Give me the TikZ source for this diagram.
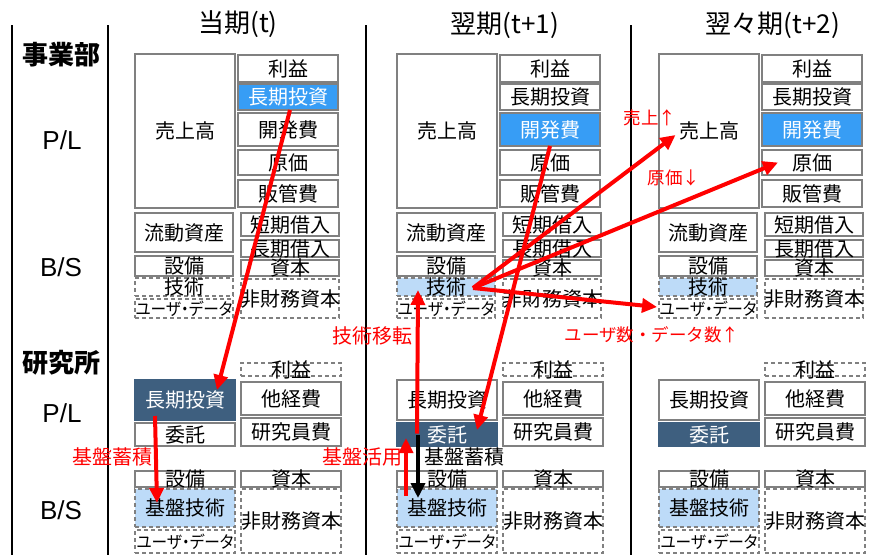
\documentclass[tikz,border=0pt]{standalone}
\usepackage{fontspec}
\setmainfont{Noto Sans CJK JP}
\newfontfamily\arialf{Liberation Sans}
\newfontfamily\pfont[RawFeature=+palt]{Noto Sans CJK JP}
\usepackage{graphicx}
\usetikzlibrary{arrows.meta,calc}
\definecolor{bblue}{RGB}{55,157,245}
\definecolor{dblue}{RGB}{62,95,127}
\definecolor{lblue}{RGB}{189,219,248}
\definecolor{bgray}{RGB}{128,128,128}
\tikzset{
 box/.style={draw=bgray, line width=1.6pt, inner sep=0pt, outer sep=0pt},
 dbox/.style={box, dash pattern=on 4pt off 3pt},
 bluebox/.style={box, fill=bblue},
 darkbox/.style={box, fill=dblue, draw=dblue},
 lbbox/.style={dbox, fill=lblue},
 box text/.style={}, dbox text/.style={}, lbbox text/.style={},
 bluebox text/.style={text=white}, darkbox text/.style={text=white},
 txt/.style={inner sep=0pt, font=\fontsize{20}{24}\selectfont},
 sep/.style={line width=1.5pt},
 rarrow/.style={draw=red, line width=4pt, -{Triangle[length=15pt,width=14pt]}},
 karrow/.style={draw=black, line width=4pt, -{Triangle[length=15pt,width=14pt]}},
 rlab/.style={text=red, inner sep=0pt, font=\fontsize{20}{24}\selectfont},
 rlabs/.style={text=red, inner sep=0pt, font=\fontsize{17.5}{20}\selectfont},
 klab/.style={text=black, inner sep=0pt, font=\fontsize{20}{24}\selectfont},
 ttl/.style={inner sep=0pt, font=\fontsize{26}{30}\selectfont},
 sec/.style={inner sep=0pt, font=\bfseries\fontsize{26}{30}\selectfont},
 pl/.style={inner sep=0pt, font=\arialf\fontsize{26}{30}\selectfont},
}
\newcommand\usertxt{\pfont\fontsize{17}{19}\selectfont\scalebox{0.92}[1]{ユーザ・データ}}
\newcommand\bx[7]{%
 \node[#6, minimum width={(#4-#2)*1pt}, minimum height={(#5-#3)*1pt},
   label={[txt, #6 text]center:{#7}}] (#1) at ({(#2+#4)/2},{(#3+#5)/2}) {};}
\newcommand\drawcol[7]{%
\begin{scope}[xshift=#2]
\bx{uri#1}{135}{54}{235}{208}{box}{売上高}
\bx{rieki#1}{238}{55}{338}{82}{box}{利益}
\bx{choki#1}{238}{84}{338}{110}{#3}{長期投資}
\bx{kaihatsu#1}{238}{113}{338}{146}{#4}{開発費}
\bx{genka#1}{238}{150}{338}{175}{box}{原価}
\bx{hankan#1}{238}{180}{338}{207}{box}{販管費}
\bx{ryudo#1}{135}{213}{233}{252}{box}{流動資産}
\bx{tanki#1}{241}{213}{339}{236}{box}{短期借入}
\bx{chokik#1}{241}{240}{339}{257}{box}{長期借入}
\bx{shihon#1}{241}{260}{339}{276}{box}{資本}
\bx{setsubi#1}{135}{256}{233}{276}{box}{設備}
\bx{gijutsu#1}{135}{278}{233}{296}{#5}{技術}
\bx{user#1}{135}{299}{233}{318}{dbox}{\usertxt}
\bx{hizai#1}{241}{279}{339}{318}{dbox}{非財務資本}
\bx{lrieki#1}{241}{363}{341}{376}{dbox}{利益}
\bx{lchoki#1}{135}{380}{235}{420}{#6}{長期投資}
\bx{takeihi#1}{241}{382}{341}{415}{box}{他経費}
\bx{itaku#1}{135}{423}{235}{446}{#7}{委託}
\bx{kenkyu#1}{241}{418}{341}{446}{box}{研究員費}
\bx{lsetsubi#1}{135}{471}{235}{487}{box}{設備}
\bx{lshihon#1}{241}{471}{341}{487}{box}{資本}
\bx{kiban#1}{135}{489}{235}{527}{lbbox}{基盤技術}
\bx{luser#1}{135}{530}{235}{553}{dbox}{\usertxt}
\bx{lhizai#1}{241}{489}{341}{553}{dbox}{非財務資本}
\end{scope}}
\begin{document}
\begin{tikzpicture}[x=1pt,y=-1pt]
\useasboundingbox (0,0) rectangle (874,555);
% separators
\draw[sep] (12,25) -- (12,555);
\draw[sep] (108,25) -- (108,555);
\draw[sep] (366,25) -- (366,555);
\draw[sep] (631,25) -- (631,555);
% titles
\node[ttl] (t1) at (238,24) {当期(t)};
\node[ttl] (t2) at (505,25) {翌期(t+1)};
\node[ttl] (t3) at (773,25) {翌々期(t+2)};
% side labels
\node[sec] (jigyo) at (61,55) {事業部};
\node[pl] (pl1) at (62,140) {P/L};
\node[pl] (bs1) at (61,267) {B/S};
\node[sec] (kenkyujo) at (61,363) {研究所};
\node[pl] (pl2) at (62,413) {P/L};
\node[pl] (bs2) at (61,510) {B/S};
% columns
\drawcol{1}{0}{bluebox}{box}{dbox}{darkbox}{box}
\drawcol{2}{262}{box}{bluebox}{lbbox}{box}{darkbox}
\drawcol{3}{524}{box}{bluebox}{lbbox}{box}{darkbox}
% arrows column 1
\draw[rarrow] ([shift={(2,13)}]choki1.center) -- ([shift={(32,-10)}]lchoki1.center);
\draw[rarrow] ([shift={(-30,16)}]lchoki1.center) -- ([shift={(-28,-5)}]kiban1.center);
% arrows column 2
\draw[rarrow] ([shift={(-30,-1)}]itaku2.center) -- ([shift={(-28,3)}]gijutsu2.center);
\draw[rarrow] ([shift={(-41,-12)}]kiban2.center) -- ([shift={(-41,3.5)}]itaku2.center);
\draw[karrow] ([shift={(-29,0)}]itaku2.center) -- ([shift={(-29,-10)}]kiban2.center);
\draw[rarrow] ([shift={(0,16.5)}]kaihatsu2.center) -- ([shift={(30,-4.5)}]itaku2.center);
\coordinate (src) at ([shift={(27,1)}]gijutsu2.center);
\draw[rarrow] (src) -- ([shift={(-33.5,4)}]uri3.center);
\draw[rarrow] (src) -- ([shift={(-34,0)}]genka3.center);
\draw[rarrow] (src) -- ([shift={(-51,-1.5)}]user3.center);
% arrow labels
\node[rlab] (l1) at (112,457) {基盤蓄積};
\node[rlab] (l2) at (372,336) {技術移転};
\node[rlab] (l3) at (362,457) {基盤活用};
\node[klab] (l4) at (464,457) {基盤蓄積};
\node[rlabs] (l5) at (650,118) {売上↑};
\node[rlabs] (l6) at (674,178) {原価↓};
\node[rlabs] (l7) at (652,335) {ユーザ数・データ数↑};
\end{tikzpicture}
\end{document}
